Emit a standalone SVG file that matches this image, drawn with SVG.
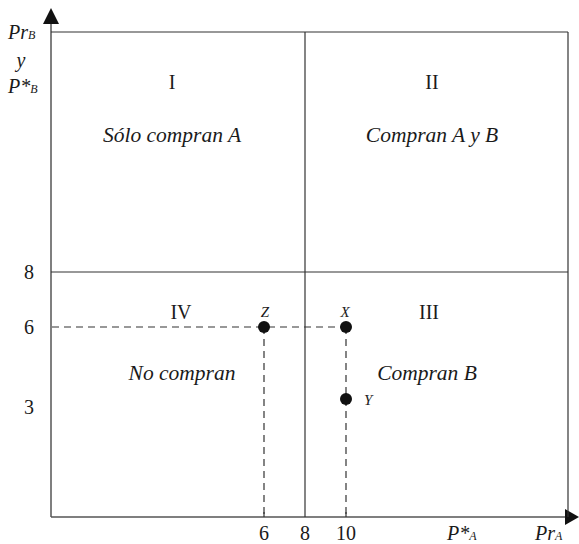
<svg xmlns="http://www.w3.org/2000/svg" width="579" height="544" viewBox="0 0 579 544">
<style>
text{font-family:"Liberation Serif","Times New Roman",serif;fill:#1a1a1a}
.t{font-size:20px;text-anchor:middle}
.q{font-size:21.5px;font-style:italic;text-anchor:middle}
.i{font-style:italic}
.s{font-size:15px;font-style:italic}
.ln{stroke:#333;stroke-width:1.2;fill:none}
.ax{stroke:#555;stroke-width:1.5;fill:none}
.d{stroke:#333;stroke-width:1.2;stroke-dasharray:7,5;fill:none}
</style>
<g id="axes">
<line class="ax" x1="51" y1="517" x2="51" y2="22"/>
<polygon points="51,8 43,24 59,24" fill="#111"/>
<line class="ax" x1="51" y1="517" x2="566" y2="517"/>
<polygon points="579,517 565,509 565,525" fill="#111"/>
</g>
<g id="connectors">
<line class="ln" x1="51" y1="32" x2="568" y2="32"/>
<line class="ln" x1="568" y1="32" x2="568" y2="517"/>
<line class="ln" x1="305" y1="32" x2="305" y2="517"/>
<line class="ln" x1="51" y1="272" x2="568" y2="272"/>
<line class="d" x1="52" y1="327" x2="346" y2="327"/>
<line class="d" x1="264" y1="327" x2="264" y2="517"/>
<line class="d" x1="346" y1="327" x2="346" y2="517"/>
</g>
<g id="quadrantI"><text class="t" x="172" y="89">I</text><text class="q" x="172" y="142">Sólo compran A</text></g>
<g id="quadrantII"><text class="t" x="432" y="89">II</text><text class="q" x="432" y="142">Compran A y B</text></g>
<g id="quadrantIII"><text class="t" x="429" y="319">III</text><text class="q" x="427" y="380">Compran B</text></g>
<g id="quadrantIV"><text class="t" x="181" y="319">IV</text><text class="q" x="182" y="380">No compran</text></g>
<g id="pointZ"><circle cx="264" cy="327" r="6" fill="#111"/><text class="s" x="265" y="317" text-anchor="middle">Z</text></g>
<g id="pointX"><circle cx="346" cy="327" r="6" fill="#111"/><text class="s" x="345" y="317" text-anchor="middle">X</text></g>
<g id="pointY"><circle cx="346" cy="399" r="6" fill="#111"/><text class="s" x="364" y="405">Y</text></g>
<g id="yLabels">
<text class="i" x="8" y="39" font-size="20">Pr<tspan font-size="12">B</tspan></text>
<text class="t i" x="21" y="67">y</text>
<text class="i" x="8" y="93" font-size="20">P*<tspan font-size="12">B</tspan></text>
<text class="t" x="29" y="279">8</text>
<text class="t" x="29" y="334">6</text>
<text class="t" x="29" y="414">3</text>
</g>
<g id="xLabels">
<line class="ln" x1="264" y1="512" x2="264" y2="517"/>
<line class="ln" x1="346" y1="512" x2="346" y2="517"/>
<text class="t" x="264" y="540">6</text>
<text class="t" x="305" y="540">8</text>
<text class="t" x="346" y="540">10</text>
<text class="i" x="447" y="540" font-size="20">P*<tspan font-size="12">A</tspan></text>
<text class="i" x="535" y="540" font-size="20">Pr<tspan font-size="12">A</tspan></text>
</g>
</svg>
